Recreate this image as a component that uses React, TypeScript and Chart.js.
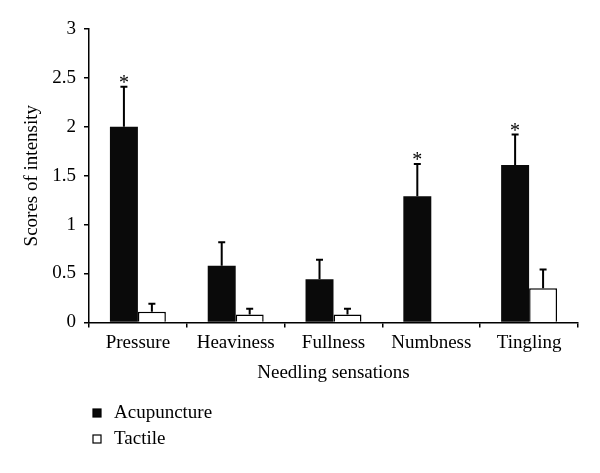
import React, { useEffect, useRef } from "react";
import { Chart, registerables } from "chart.js";

Chart.register(...registerables);

const categories = ["Pressure", "Heaviness", "Fullness", "Numbness", "Tingling"];
const acupuncture = [2.0, 0.58, 0.44, 1.29, 1.61];
const acupunctureErr = [0.41, 0.24, 0.2, 0.33, 0.31];
const tactile = [0.11, 0.08, 0.08, 0, 0.35];
const tactileErr = [0.08, 0.06, 0.06, 0, 0.19];
const significant = [true, false, false, true, true];
const seriesNames = ["Acupuncture", "Tactile"];
const yTickValues = [0, 0.5, 1, 1.5, 2, 2.5, 3];

const FONT = "'Liberation Serif', 'Times New Roman', serif";

const errorBarPlugin = {
  id: "errorBars",
  afterDatasetsDraw(chart: any) {
    const ctx = chart.ctx;
    const yScale = chart.scales.y;
    chart.data.datasets.forEach((ds: any, i: number) => {
      const meta = chart.getDatasetMeta(i);
      meta.data.forEach((el: any, j: number) => {
        const err = ds.errors[j];
        const val = ds.data[j];
        if (!err) return;
        const yTop = yScale.getPixelForValue(val + err);
        const yBase = yScale.getPixelForValue(val);
        ctx.save();
        ctx.strokeStyle = "#000";
        ctx.lineWidth = 2;
        ctx.beginPath();
        ctx.moveTo(el.x, yBase);
        ctx.lineTo(el.x, yTop);
        ctx.moveTo(el.x - 3.5, yTop);
        ctx.lineTo(el.x + 3.5, yTop);
        ctx.stroke();
        if (ds.stars && ds.stars[j]) {
          ctx.fillStyle = "#000";
          ctx.font = `20px ${FONT}`;
          ctx.textAlign = "center";
          ctx.textBaseline = "alphabetic";
          ctx.fillText("*", el.x, yTop + 2);
        }
        ctx.restore();
      });
    });
  },
};

const legendPlugin = {
  id: "customLegend",
  afterDraw(chart: any) {
    const ctx = chart.ctx;
    const rows = [
      { label: seriesNames[0], fill: "#0a0a0a", y: 413 },
      { label: seriesNames[1], fill: "#ffffff", y: 439 },
    ];
    ctx.save();
    rows.forEach((r) => {
      ctx.fillStyle = r.fill;
      ctx.fillRect(93, r.y - 4, 8, 8);
      ctx.strokeStyle = "#000";
      ctx.lineWidth = 1.2;
      ctx.strokeRect(93, r.y - 4, 8, 8);
      ctx.fillStyle = "#000";
      ctx.font = `19px ${FONT}`;
      ctx.textAlign = "left";
      ctx.textBaseline = "middle";
      ctx.fillText(r.label, 114, r.y);
    });
    ctx.restore();
  },
};

export default function App() {
  const ref = useRef<HTMLCanvasElement | null>(null);
  useEffect(() => {
    if (!ref.current) return;
    const chart = new Chart(ref.current, {
      type: "bar",
      data: {
        labels: categories,
        datasets: [
          {
            label: seriesNames[0],
            data: acupuncture,
            errors: acupunctureErr,
            stars: significant,
            backgroundColor: "#0a0a0a",
            borderColor: "#000",
            borderWidth: 0,
            categoryPercentage: 0.572,
            barPercentage: 1,
          } as any,
          {
            label: seriesNames[1],
            data: tactile,
            errors: tactileErr,
            backgroundColor: "#ffffff",
            borderColor: "#000",
            borderWidth: 1.5,
            categoryPercentage: 0.572,
            barPercentage: 1,
          } as any,
        ],
      },
      options: {
        responsive: false,
        animation: false,
        layout: { padding: { top: 29, right: 22, bottom: 89, left: 0 } },
        plugins: {
          legend: { display: false },
          tooltip: { enabled: false },
        },
        scales: {
          x: {
            grid: {
              display: true,
              drawOnChartArea: false,
              offset: true,
              tickLength: 5,
              color: "#000",
              lineWidth: 1.5,
            },
            border: { display: true, color: "#000", width: 1.5 },
            ticks: {
              color: "#000",
              font: { family: FONT, size: 19 },
              padding: 4,
              maxRotation: 0,
            },
            title: {
              display: true,
              text: "Needling sensations",
              color: "#000",
              font: { family: FONT, size: 19 },
              padding: { top: 3, bottom: 0 },
            },
          },
          y: {
            min: 0,
            max: 3,
            afterFit: (s: any) => {
              s.width = 89;
            },
            afterBuildTicks: (s: any) => {
              s.ticks = yTickValues.map((v) => ({ value: v }));
            },
            grid: {
              display: true,
              drawOnChartArea: false,
              tickLength: 5,
              color: "#000",
              lineWidth: 1.5,
            },
            border: { display: true, color: "#000", width: 1.5 },
            ticks: {
              color: "#000",
              font: { family: FONT, size: 19 },
              padding: 8,
              callback: (v: any) => String(v),
            },
            title: {
              display: true,
              text: "Scores of intensity",
              color: "#000",
              font: { family: FONT, size: 19 },
              padding: { top: 21, bottom: 0 },
            },
          },
        },
      },
      plugins: [errorBarPlugin, legendPlugin],
    });
    return () => chart.destroy();
  }, []);
  return (
    <div style={{ position: "absolute", left: 0, top: 0, width: 600, height: 473, background: "#fff" }}>
      <canvas ref={ref} width={600} height={473} />
    </div>
  );
}
